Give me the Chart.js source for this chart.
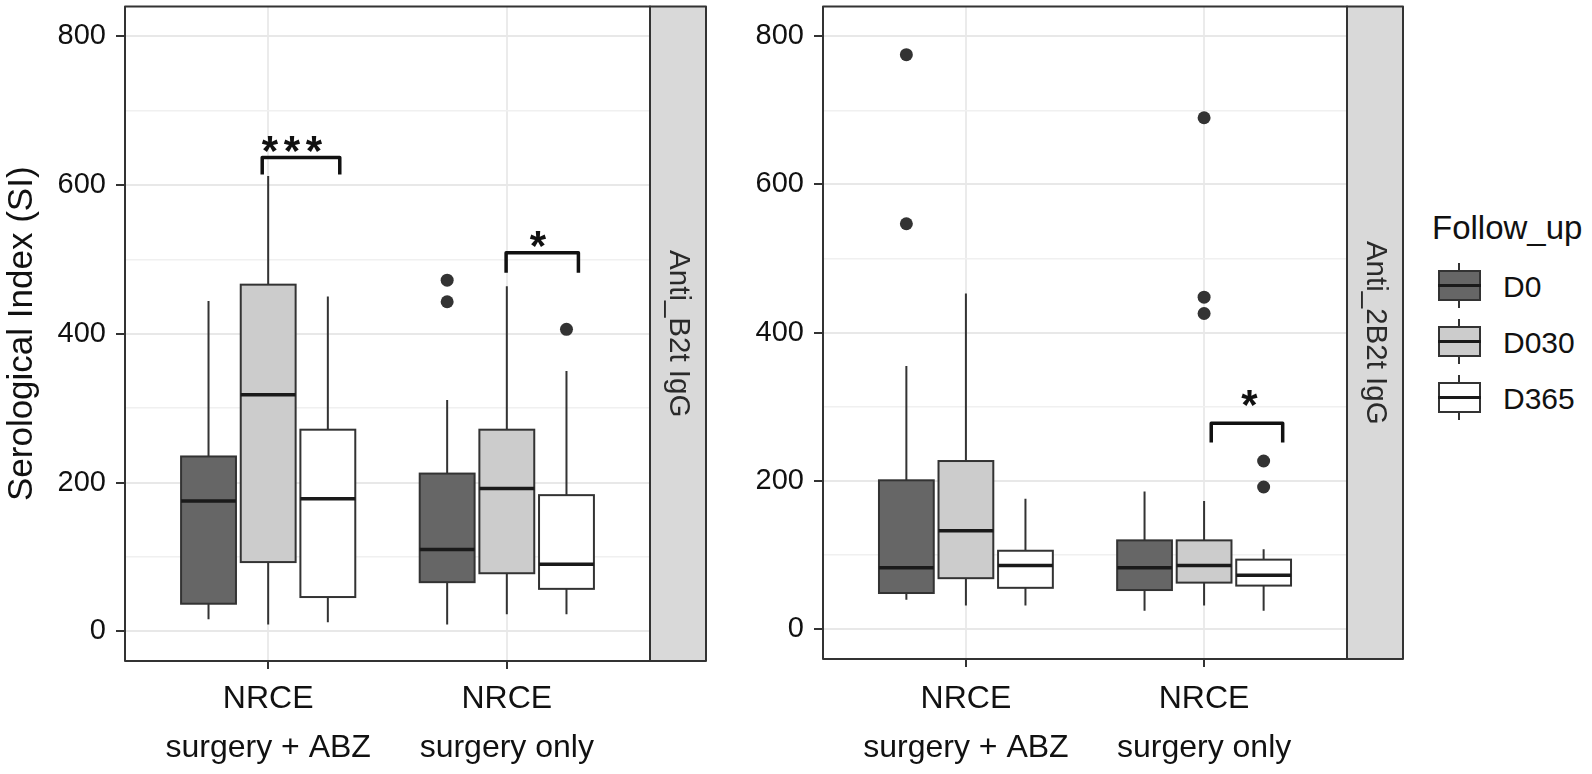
<!DOCTYPE html>
<html>
<head>
<meta charset="utf-8">
<title>Serological Index</title>
<script src="https://cdn.jsdelivr.net/npm/chart.js@4.4.1/dist/chart.umd.min.js"></script>
<style>
  body { margin: 0; background: #fff; width: 1592px; height: 774px; overflow: hidden; position: relative;
         font-family: "Liberation Sans", Arial, sans-serif; color: #111; }
  canvas { position: absolute; top: 0; }
  #c1 { left: 0; }
  #c2 { left: 720px; }
  #legend div { position: absolute; }
  .ltitle { font-size: 33px; line-height: 40px; white-space: nowrap; }
  .llab { font-size: 30px; line-height: 36px; }
  .key { width: 43px; height: 45px; }
  .key .wh { left: 20px; top: 0; width: 2px; height: 45px; background: #333; }
  .key .bx { left: 0; top: 7px; width: 43px; height: 31px; border: 2px solid #333; box-sizing: border-box; }
  .key .md { left: 0; top: 21px; width: 43px; height: 3px; background: #1a1a1a; }
</style>
</head>
<body>
<canvas id="c1" width="720" height="774"></canvas>
<canvas id="c2" width="700" height="774"></canvas>
<div id="legend"></div>
<script>
// x categories and groups
const categories = [['NRCE', 'surgery + ABZ'], ['NRCE', 'surgery only']];
const followUps = ['D0', 'D030', 'D365'];
const fills = ['#666666', '#cccccc', '#ffffff'];
const yTicks = [0, 100, 200, 300, 400, 500, 600, 700, 800];

// Anti_B2t IgG : [lower whisker, Q1, median, Q3, upper whisker] per category
const b2tD0   = [[16, 37, 175, 235, 444], [9, 66, 110, 212, 311]];
const b2tD030 = [[9, 93, 318, 466, 612], [23, 78, 192, 271, 464]];
const b2tD365 = [[12, 46, 178, 271, 450], [23, 57, 90, 183, 350]];
const b2tOutD0   = [[], [472, 443]];
const b2tOutD030 = [[], []];
const b2tOutD365 = [[], [406]];

// Anti_2B2t IgG
const t2bD0   = [[40, 49, 83, 201, 355], [25, 53, 83, 120, 186]];
const t2bD030 = [[32, 69, 133, 227, 453], [32, 63, 86, 120, 173]];
const t2bD365 = [[32, 56, 86, 106, 176], [25, 59, 73, 94, 108]];
const t2bOutD0   = [[775, 547], []];
const t2bOutD030 = [[], [690, 448, 426]];
const t2bOutD365 = [[], [227, 192]];

// significance: [x from, x to, bar, tip, label, label x, label y]
const b2tSig = [[0.975, 1.3, 637, 614, '***', 1.1, 656], [1.997, 2.3, 509, 482, '*', 2.13, 529]];
const t2bSig = [[2.03, 2.33, 278, 252, '*', 2.19, 313]];

const offsets = [-0.25, 0, 0.25];
const boxWidth = 0.23;
const FONT = '"Liberation Sans", Arial, sans-serif';
Chart.defaults.font.family = FONT;

function panelPlugin(stats, sig, stripText) {
  return {
    id: 'panel',
    beforeDatasetsDraw(chart) {
      const {ctx, scales: {x, y}} = chart;
      const half = (x.getPixelForValue(boxWidth) - x.getPixelForValue(0)) / 2;
      ctx.save();
      stats.forEach((group, g) => {
        group.forEach((s, c) => {
          const xc = x.getPixelForValue(c + 1 + offsets[g]);
          const [lo, q1, med, q3, hi] = s.map(v => y.getPixelForValue(v));
          ctx.strokeStyle = '#333';
          ctx.lineWidth = 2;
          ctx.beginPath();
          ctx.moveTo(xc, hi); ctx.lineTo(xc, q3);
          ctx.moveTo(xc, q1); ctx.lineTo(xc, lo);
          ctx.stroke();
          ctx.fillStyle = fills[g];
          ctx.fillRect(xc - half, q3, 2 * half, q1 - q3);
          ctx.strokeRect(xc - half, q3, 2 * half, q1 - q3);
          ctx.strokeStyle = '#1a1a1a';
          ctx.lineWidth = 3.5;
          ctx.beginPath();
          ctx.moveTo(xc - half, med); ctx.lineTo(xc + half, med);
          ctx.stroke();
        });
      });
      ctx.restore();
    },
    afterDatasetsDraw(chart) {
      const {ctx, chartArea: a, scales: {x, y}} = chart;
      ctx.save();
      // brackets
      sig.forEach(([x1, x2, bar, tip, label, lx, ly]) => {
        ctx.strokeStyle = '#111';
        ctx.lineWidth = 3.5;
        ctx.lineJoin = 'round';
        ctx.beginPath();
        ctx.moveTo(x.getPixelForValue(x1), y.getPixelForValue(tip));
        ctx.lineTo(x.getPixelForValue(x1), y.getPixelForValue(bar));
        ctx.lineTo(x.getPixelForValue(x2), y.getPixelForValue(bar));
        ctx.lineTo(x.getPixelForValue(x2), y.getPixelForValue(tip));
        ctx.stroke();
        ctx.fillStyle = '#111';
        ctx.font = 'bold 42px ' + FONT;
        ctx.textAlign = 'center';
        ctx.textBaseline = 'alphabetic';
        const cx = x.getPixelForValue(lx), cy = y.getPixelForValue(ly) + 22;
        [...label].forEach((ch, i) => ctx.fillText(ch, cx + (i - (label.length - 1) / 2) * 22, cy));
      });
      // panel border
      ctx.strokeStyle = '#333';
      ctx.lineWidth = 2;
      ctx.strokeRect(a.left, a.top, a.right - a.left, a.bottom - a.top);
      // strip
      ctx.fillStyle = '#d9d9d9';
      ctx.fillRect(a.right, a.top, 56, a.bottom - a.top);
      ctx.strokeRect(a.right, a.top, 56, a.bottom - a.top);
      ctx.translate(a.right + 28, (a.top + a.bottom) / 2);
      ctx.rotate(Math.PI / 2);
      ctx.fillStyle = '#2a2a2a';
      ctx.font = '29.5px ' + FONT;
      ctx.textAlign = 'center';
      ctx.textBaseline = 'middle';
      ctx.fillText(stripText, 0, 0);
      ctx.restore();
    }
  };
}

function outlierSets(outs) {
  return outs.map((out, g) => ({
    label: followUps[g],
    data: out.flatMap((vals, c) => vals.map(v => ({x: c + 1 + offsets[g], y: v}))),
    backgroundColor: '#333',
    borderWidth: 0,
    pointRadius: 6.5
  }));
}

function makeChart(id, o) {
  return new Chart(document.getElementById(id), {
    type: 'scatter',
    data: {datasets: outlierSets(o.outs)},
    options: {
      responsive: false,
      animation: false,
      layout: {padding: {top: o.top, right: o.right, bottom: 0, left: 0}},
      plugins: {legend: {display: false}, tooltip: {enabled: false}},
      scales: {
        x: {
          type: 'linear', min: 0.4, max: 2.6,
          afterBuildTicks: s => { s.ticks = [{value: 1}, {value: 2}]; },
          afterFit: s => { s.height = o.xHeight; s.paddingLeft = 0; s.paddingRight = 0; },
          ticks: {
            callback: v => categories[Math.round(v) - 1],
            font: {size: 32, lineHeight: 1.53}, color: '#111', padding: o.xPad,
            autoSkip: false, maxRotation: 0
          },
          grid: {color: '#ebebeb', lineWidth: 2, tickLength: 8, tickColor: '#333', tickWidth: 2},
          border: {display: false}
        },
        y: {
          min: -40, max: 840,
          afterBuildTicks: s => { s.ticks = yTicks.map(v => ({value: v})); },
          afterFit: s => { s.width = o.yWidth; s.paddingTop = 0; s.paddingBottom = 0; },
          ticks: {
            callback: v => (v % 200 === 0 ? String(v) : ''),
            font: {size: 29}, color: '#111', padding: 10, autoSkip: false
          },
          grid: {
            color: c => (c.tick && c.tick.value % 200 === 0 ? '#e8e8e8' : '#f0f0f0'),
            lineWidth: c => (c.tick && c.tick.value % 200 === 0 ? 2 : 1.5),
            tickLength: 9,
            tickColor: c => (c.tick && c.tick.value % 200 === 0 ? '#333' : 'rgba(0,0,0,0)'),
            tickWidth: 2
          },
          border: {display: false},
          title: {
            display: !!o.yTitle, text: o.yTitle || '', color: '#111',
            font: {size: 35, lineHeight: 1.25}, padding: {top: 0, bottom: 0}
          }
        }
      }
    },
    plugins: [panelPlugin(o.stats, o.sig, o.strip)]
  });
}

makeChart('c1', {
  stats: [b2tD0, b2tD030, b2tD365], outs: [b2tOutD0, b2tOutD030, b2tOutD365], sig: b2tSig,
  strip: 'Anti_B2t IgG', yTitle: 'Serological Index (SI)',
  top: 6, right: 70, xHeight: 113, yWidth: 125, xPad: 6
});
makeChart('c2', {
  stats: [t2bD0, t2bD030, t2bD365], outs: [t2bOutD0, t2bOutD030, t2bOutD365], sig: t2bSig,
  strip: 'Anti_2B2t IgG', yTitle: '',
  top: 3, right: 73, xHeight: 115, yWidth: 103, xPad: 8
});

// legend (ggplot style keys)
const legend = document.getElementById('legend');
let html = '<div class="ltitle" style="left:1432px;top:208px">Follow_up</div>';
followUps.forEach((f, i) => {
  const cy = 285 + i * 56;
  html += '<div class="key" style="left:1438px;top:' + (cy - 22.5) + 'px">' +
          '<div class="wh"></div><div class="bx" style="background:' + fills[i] + '"></div><div class="md"></div></div>';
  html += '<div class="llab" style="left:1503px;top:' + (cy + 2 - 18) + 'px">' + f + '</div>';
});
legend.innerHTML = html;
</script>
</body>
</html>
